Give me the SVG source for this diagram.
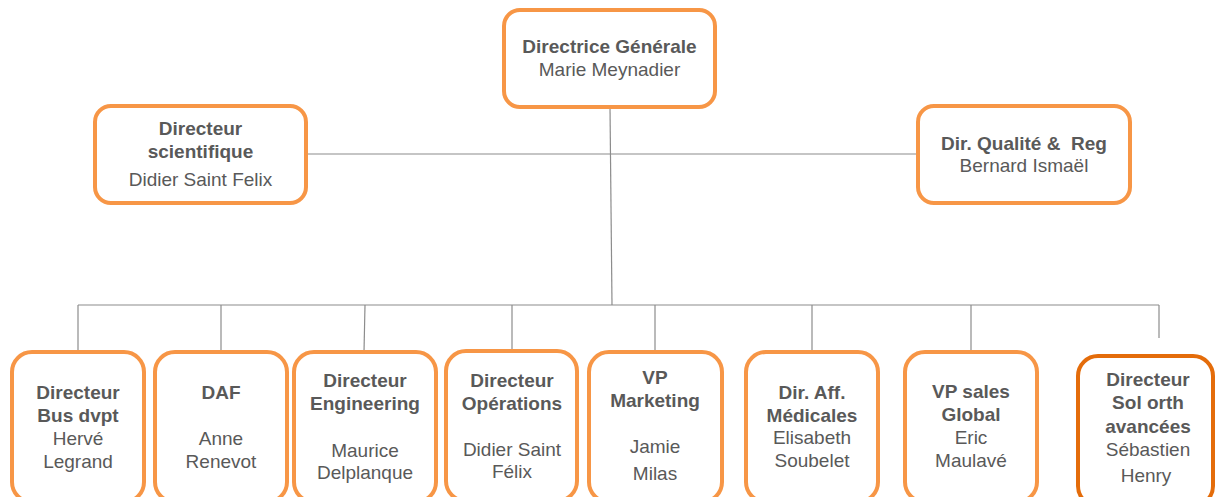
<svg xmlns="http://www.w3.org/2000/svg" width="1215" height="497" viewBox="0 0 1215 497">
<style>
.box{fill:#fff;stroke:#F79646;stroke-width:4}
.box2{fill:#fff;stroke:#E46C0A;stroke-width:4}
text{font-family:"Liberation Sans",Arial,sans-serif;font-size:19px;fill:#595959;text-anchor:middle}
.b{font-weight:bold}
.ln{stroke:#8C8C8C;stroke-width:1.2;fill:none}
</style>
<rect width="1215" height="497" fill="#fff"/>
<g id="connectors">
<line class="ln" x1="610" y1="107" x2="612" y2="305"/>
<line class="ln" x1="306" y1="154" x2="918" y2="154"/>
<line class="ln" x1="78" y1="305" x2="1159" y2="305"/>
<line class="ln" x1="78" y1="305" x2="78" y2="352"/>
<line class="ln" x1="221" y1="305" x2="221" y2="352"/>
<line class="ln" x1="365" y1="305" x2="364" y2="352"/>
<line class="ln" x1="512" y1="305" x2="512" y2="351"/>
<line class="ln" x1="655" y1="305" x2="655" y2="352"/>
<line class="ln" x1="812" y1="305" x2="812" y2="352"/>
<line class="ln" x1="971" y1="305" x2="971" y2="352"/>
<line class="ln" x1="1159" y1="305" x2="1159" y2="338"/>
</g>
<g id="n-dg">
<rect class="box" x="504" y="10" width="211" height="97" rx="16"/>
<text class="b" x="609.5" y="53">Directrice Générale</text>
<text x="609.5" y="76">Marie Meynadier</text>
</g>
<g id="n-sci">
<rect class="box" x="95" y="106" width="211" height="97" rx="16"/>
<text class="b" x="200.5" y="135">Directeur</text>
<text class="b" x="200.5" y="158">scientifique</text>
<text x="200.5" y="186">Didier Saint Felix</text>
</g>
<g id="n-qual">
<rect class="box" x="918" y="106" width="212" height="97" rx="16"/>
<text class="b" x="1024" y="150" xml:space="preserve">Dir. Qualité &amp;  Reg</text>
<text x="1024" y="172">Bernard Ismaël</text>
</g>
<g id="n-bus">
<rect class="box" x="12" y="352" width="132" height="150" rx="20"/>
<text class="b" x="78" y="399">Directeur</text>
<text class="b" x="78" y="422">Bus dvpt</text>
<text x="78" y="445">Hervé</text>
<text x="78" y="468">Legrand</text>
</g>
<g id="n-daf">
<rect class="box" x="155" y="352" width="132" height="150" rx="20"/>
<text class="b" x="221" y="399">DAF</text>
<text x="221" y="445">Anne</text>
<text x="221" y="468">Renevot</text>
</g>
<g id="n-eng">
<rect class="box" x="294" y="352" width="142" height="150" rx="20"/>
<text class="b" x="365" y="387">Directeur</text>
<text class="b" x="365" y="410">Engineering</text>
<text x="365" y="457">Maurice</text>
<text x="365" y="479">Delplanque</text>
</g>
<g id="n-ops">
<rect class="box" x="446" y="351" width="131" height="150" rx="20"/>
<text class="b" x="512" y="387">Directeur</text>
<text class="b" x="512" y="410">Opérations</text>
<text x="512" y="456">Didier Saint</text>
<text x="512" y="478">Félix</text>
</g>
<g id="n-mkt">
<rect class="box" x="589" y="352" width="133" height="150" rx="20"/>
<text class="b" x="655" y="384">VP</text>
<text class="b" x="655" y="407">Marketing</text>
<text x="655" y="453">Jamie</text>
<text x="655" y="480">Milas</text>
</g>
<g id="n-med">
<rect class="box" x="746" y="352" width="132" height="150" rx="20"/>
<text class="b" x="812" y="399">Dir. Aff.</text>
<text class="b" x="812" y="422">Médicales</text>
<text x="812" y="444">Elisabeth</text>
<text x="812" y="467">Soubelet</text>
</g>
<g id="n-sales">
<rect class="box" x="905" y="352" width="132" height="150" rx="20"/>
<text class="b" x="971" y="398">VP sales</text>
<text class="b" x="971" y="421">Global</text>
<text x="971" y="444">Eric</text>
<text x="971" y="467">Maulavé</text>
</g>
<g id="n-sol">
<rect class="box2" x="1078" y="356" width="135" height="150" rx="20"/>
<text class="b" x="1148" y="386">Directeur</text>
<text class="b" x="1148" y="409">Sol orth</text>
<text class="b" x="1148" y="433">avancées</text>
<text x="1148" y="456">Sébastien</text>
<text x="1146" y="482">Henry</text>
</g>
</svg>
